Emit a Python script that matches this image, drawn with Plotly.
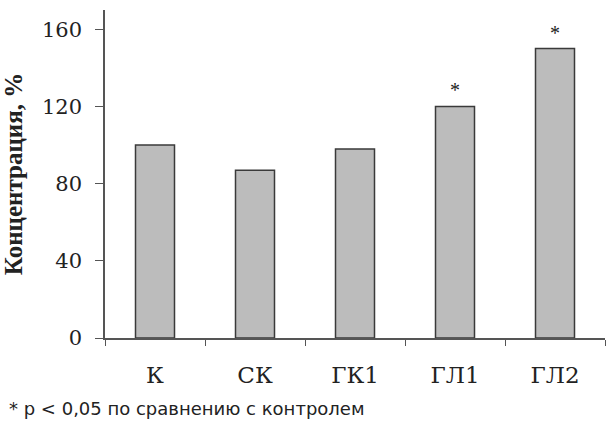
import plotly.graph_objects as go

# Concentration by group, % of control
groups = ["К", "СК", "ГК1", "ГЛ1", "ГЛ2"]
concentration = [100, 87, 98, 120, 150]
significant = [False, False, False, True, True]
y_ticks = [0, 40, 80, 120, 160]

SERIF = "DejaVu Serif"

fig = go.Figure()
fig.add_trace(go.Bar(
    x=groups,
    y=concentration,
    width=0.39,
    marker=dict(color="#BCBCBC", line=dict(color="#3A3A3A", width=1.5)),
))

# Significance marks above the bars
for g, v, s in zip(groups, concentration, significant):
    if s:
        fig.add_annotation(x=g, y=v, text="*", showarrow=False, yanchor="bottom",
                           yshift=3, font=dict(family="Liberation Serif", size=20, color="#222"))

fig.add_annotation(xref="paper", yref="paper", x=-0.196, y=-0.215, xanchor="left", yanchor="middle",
                   text="* p < 0,05 по сравнению с контролем", showarrow=False,
                   font=dict(family="DejaVu Sans", size=18, color="#222"))

fig.update_layout(
    width=606, height=423,
    margin=dict(l=105, r=1, t=10, b=85),
    paper_bgcolor="white", plot_bgcolor="white",
    showlegend=False,
    xaxis=dict(
        showline=True, linecolor="#555", linewidth=1.5,
        ticks="outside", tickson="boundaries", ticklen=6, tickcolor="#555",
        ticklabelstandoff=16,
        tickfont=dict(family=SERIF, size=23, color="#222"),
        range=[-0.5, 4.5],
    ),
    yaxis=dict(
        range=[0, 170], tickvals=y_ticks,
        showline=True, linecolor="#555", linewidth=1.5,
        ticks="outside", ticklen=8, tickcolor="#555",
        ticklabelstandoff=9,
        tickfont=dict(family=SERIF, size=21, color="#222"),
        showgrid=False, zeroline=False,
        title=dict(text="<b>Концентрация, %</b>", standoff=12,
                   font=dict(family="Liberation Serif", size=25, color="#222")),
    ),
)

fig.write_html("out.html")
